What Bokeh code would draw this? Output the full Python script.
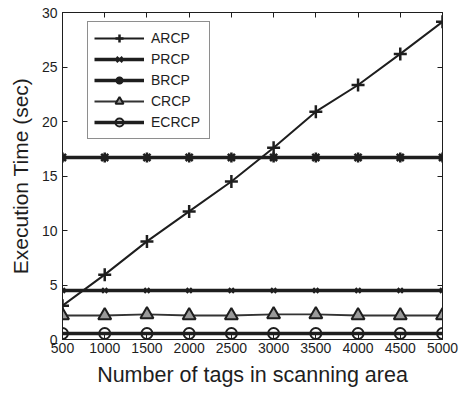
from bokeh.plotting import figure
from bokeh.models import LinearAxis, FixedTicker, Range1d, Legend
from bokeh.embed import file_html
from bokeh.resources import INLINE

# Number of tags in the scanning area
tags = [500, 1000, 1500, 2000, 2500, 3000, 3500, 4000, 4500, 5000]

# Execution time (sec) for each protocol
arcp = [3.1, 5.95, 9.0, 11.75, 14.5, 17.6, 20.9, 23.35, 26.2, 29.15]
prcp = [4.5, 4.5, 4.5, 4.5, 4.5, 4.5, 4.5, 4.5, 4.5, 4.5]
brcp = [16.7, 16.7, 16.7, 16.7, 16.7, 16.7, 16.7, 16.7, 16.7, 16.7]
crcp = [2.2, 2.2, 2.3, 2.2, 2.2, 2.3, 2.3, 2.2, 2.2, 2.2]
ecrcp = [0.55, 0.55, 0.55, 0.55, 0.55, 0.55, 0.55, 0.55, 0.55, 0.55]

x_ticks = [500, 1000, 1500, 2000, 2500, 3000, 3500, 4000, 4500, 5000]
y_ticks = [0, 5, 10, 15, 20, 25, 30]

FONT = "Liberation Sans"
INK = "#1e1e1e"

p = figure(width=465, height=393, output_backend="svg", toolbar_location=None,
           x_range=Range1d(500, 5000), y_range=Range1d(0, 30),
           min_border_left=62, min_border_right=23, min_border_top=12,
           min_border_bottom=54, x_axis_location=None, y_axis_location=None)
p.grid.visible = False
p.outline_line_color = INK
p.outline_line_width = 1
p.background_fill_color = "white"
p.border_fill_color = "white"


def make_axis(ticks, labels=True, title=None):
    ax = LinearAxis(ticker=FixedTicker(ticks=ticks))
    ax.major_tick_in = 5
    ax.major_tick_out = 0
    ax.minor_tick_line_color = None
    ax.axis_line_color = INK
    ax.major_tick_line_color = INK
    ax.major_label_text_font = FONT
    ax.major_label_text_font_size = "14px"
    ax.major_label_text_color = INK if labels else None
    if not labels:
        ax.major_label_text_font_size = "0px"
    if title:
        ax.axis_label = title
        ax.axis_label_text_font = FONT
        ax.axis_label_text_font_style = "normal"
        ax.axis_label_text_color = INK
    return ax


xb = make_axis(x_ticks, title="Number of tags in scanning area")
xb.axis_label_text_font_size = "21.5px"
xb.major_label_standoff = 3
xb.axis_label_standoff = 7
p.add_layout(xb, "below")

yl = make_axis(y_ticks, title="Execution Time (sec)")
yl.axis_label_text_font_size = "21px"
yl.major_label_standoff = 5
yl.axis_label_standoff = 7
p.add_layout(yl, "left")

p.add_layout(make_axis(x_ticks, labels=False), "above")
p.add_layout(make_axis(y_ticks, labels=False), "right")

items = []

l1 = p.line(tags, arcp, line_color=INK, line_width=2)
m1 = p.scatter(tags, arcp, marker="cross", size=13, line_color=INK, line_width=2.5)
items.append(("ARCP", [l1, m1]))

l2 = p.line(tags, prcp, line_color=INK, line_width=3.5)
m2 = p.scatter(tags, prcp, marker="x", size=7, line_color=INK, line_width=2)
items.append(("PRCP", [l2, m2]))

l3 = p.line(tags, brcp, line_color=INK, line_width=3.5)
m3 = p.scatter(tags, brcp, marker="asterisk", size=10, line_color=INK, line_width=2.5)
items.append(("BRCP", [l3, m3]))

l4 = p.line(tags, crcp, line_color="#333333", line_width=1.8)
m4 = p.scatter(tags, crcp, marker="triangle", size=13, line_color=INK,
               line_width=2, fill_color="#9a9a9a")
items.append(("CRCP", [l4, m4]))

l5 = p.line(tags, ecrcp, line_color=INK, line_width=3.5)
m5 = p.scatter(tags, ecrcp, marker="circle", size=11, line_color=INK,
               line_width=2, fill_color=None)
items.append(("ECRCP", [l5, m5]))

legend = Legend(items=items, location=(25, 200))
legend.border_line_color = INK
legend.border_line_width = 1
legend.background_fill_color = "white"
legend.background_fill_alpha = 1
legend.padding = 6
legend.spacing = 1
legend.glyph_width = 50
legend.glyph_height = 20
legend.label_height = 20
legend.label_width = 52
legend.label_standoff = 7
legend.label_text_font = FONT
legend.label_text_font_size = "14px"
legend.label_text_color = INK
legend.margin = 0
p.add_layout(legend, "center")

open("out.html", "w").write(file_html(p, INLINE))
